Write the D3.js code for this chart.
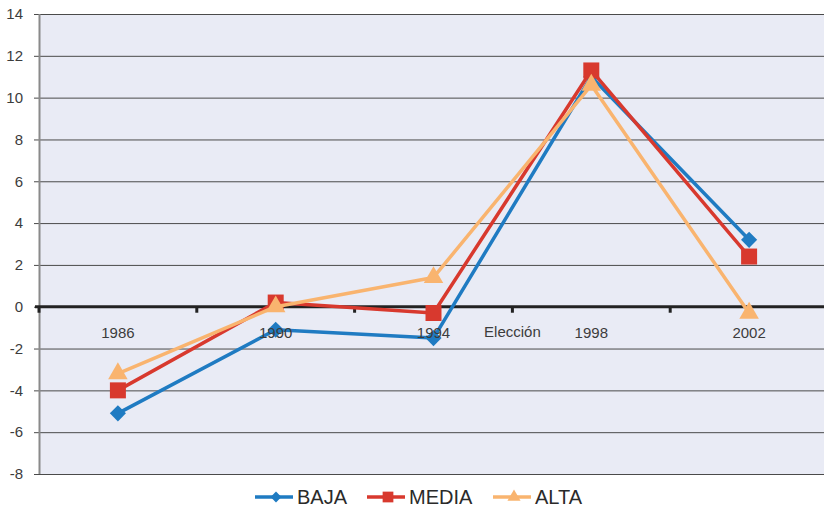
<!DOCTYPE html>
<html>
<head>
<meta charset="utf-8">
<script src="https://cdn.jsdelivr.net/npm/d3@7"></script>
<style>
  html, body { margin: 0; padding: 0; background: #ffffff; }
  svg { display: block; font-family: "Liberation Sans", Arial, sans-serif; }
</style>
</head>
<body>
<svg id="chart" width="824" height="508"></svg>
<script>
// Election years and change values per group
const categories = ["1986", "1990", "1994", "1998", "2002"];
const baja  = [-5.1, -1.1, -1.5, 11.0, 3.2];
const media = [-4.0,  0.2, -0.3, 11.3, 2.4];
const alta  = [-3.2,  0.0,  1.4, 10.6, -0.3];
const yTicks = [-8, -6, -4, -2, 0, 2, 4, 6, 8, 10, 12, 14];
const seriesNames = ["BAJA", "MEDIA", "ALTA"];
const seriesColors = ["#1f7bc2", "#d8392e", "#f9b46f"];
const axisTitle = "Elección";

(function () {
  const series = [baja, media, alta].map((values, i) => ({
    name: seriesNames[i], color: seriesColors[i], values
  }));

  const svg = d3.select("#chart");
  const mLeft = 39, mRight = 828, mTop = 14, mBottom = 474;

  const x = d3.scaleBand().domain(categories).range([mLeft, mRight]).padding(0);
  const y = d3.scaleLinear().domain([-8, 14]).range([mBottom, mTop]);
  const cx = c => x(c) + x.bandwidth() / 2;

  // Plot area
  svg.append("rect")
    .attr("x", mLeft).attr("y", mTop)
    .attr("width", mRight - mLeft).attr("height", mBottom - mTop)
    .attr("fill", "#e9ebf5");

  // Horizontal gridlines and value labels (plain hyphen for negatives)
  const yAxis = d3.axisLeft(y).tickValues(yTicks).tickSize(5).tickPadding(10)
    .tickFormat(d => String(d));
  const gy = svg.append("g").attr("transform", `translate(${mLeft},0)`).call(yAxis);
  gy.select(".domain").remove();
  gy.selectAll(".tick line")
    .attr("x1", -5).attr("x2", mRight - mLeft)
    .attr("stroke", "#4a4a4a").attr("stroke-width", 1);
  gy.selectAll(".tick text")
    .attr("x", -16)
    .attr("fill", "#3c3c3c").attr("font-size", 15);

  // Vertical axis line
  svg.append("line")
    .attr("x1", mLeft + 0.5).attr("x2", mLeft + 0.5)
    .attr("y1", mTop).attr("y2", mBottom)
    .attr("stroke", "#8a8a8a").attr("stroke-width", 2);

  // Category axis across zero
  const zeroY = y(0);
  svg.append("line")
    .attr("x1", mLeft - 4).attr("x2", mRight)
    .attr("y1", zeroY).attr("y2", zeroY)
    .attr("stroke", "#222").attr("stroke-width", 3);
  const boundaries = categories.map(c => x(c)).concat([mRight]);
  svg.append("g").selectAll("line").data(boundaries).join("line")
    .attr("x1", d => d).attr("x2", d => d)
    .attr("y1", zeroY).attr("y2", zeroY + 6)
    .attr("stroke", "#222").attr("stroke-width", 3);

  // Marker shapes: rotated square (diamond), square, triangle
  const markers = [
    { type: d3.symbolSquare, size: 130, rotate: 45 },
    { type: d3.symbolSquare, size: 256, rotate: 0 },
    { type: d3.symbolTriangle, size: 165, rotate: 0 }
  ];

  const line = d3.line().x((d, i) => cx(categories[i])).y(d => y(d));

  series.forEach((s, si) => {
    const g = svg.append("g");
    const mk = markers[si];
    g.append("path")
      .attr("d", line(s.values))
      .attr("fill", "none")
      .attr("stroke", s.color)
      .attr("stroke-width", 3.5)
      .attr("stroke-linejoin", "round");
    g.selectAll("path.m").data(s.values).join("path")
      .attr("class", "m")
      .attr("transform", (d, i) => `translate(${cx(categories[i])},${y(d)}) rotate(${mk.rotate})`)
      .attr("d", d3.symbol().type(mk.type).size(mk.size))
      .attr("fill", s.color);
  });

  // Category labels
  svg.append("g").selectAll("text").data(categories).join("text")
    .attr("x", d => cx(d)).attr("y", zeroY + 31)
    .attr("text-anchor", "middle")
    .attr("fill", "#3c3c3c").attr("font-size", 15)
    .text(d => d);
  svg.append("text")
    .attr("x", x("1998")).attr("y", zeroY + 30)
    .attr("text-anchor", "middle")
    .attr("fill", "#3c3c3c").attr("font-size", 15)
    .text(axisTitle);

  // Legend
  const legendItems = [
    { x: 255, tx: 297 },
    { x: 367, tx: 409 },
    { x: 493, tx: 535 }
  ];
  const legendY = 497;
  series.forEach((s, i) => {
    const it = legendItems[i];
    const mk = markers[i];
    const g = svg.append("g");
    g.append("line")
      .attr("x1", it.x).attr("x2", it.x + 38)
      .attr("y1", legendY).attr("y2", legendY)
      .attr("stroke", s.color).attr("stroke-width", 3.5);
    g.append("path")
      .attr("transform", `translate(${it.x + 21},${legendY}) rotate(${mk.rotate})`)
      .attr("d", d3.symbol().type(mk.type).size(mk.size * 0.45))
      .attr("fill", s.color);
    g.append("text")
      .attr("x", it.tx).attr("y", legendY + 7)
      .attr("fill", "#2a2a2a").attr("font-size", 20)
      .text(s.name);
  });
})();
</script>
</body>
</html>
